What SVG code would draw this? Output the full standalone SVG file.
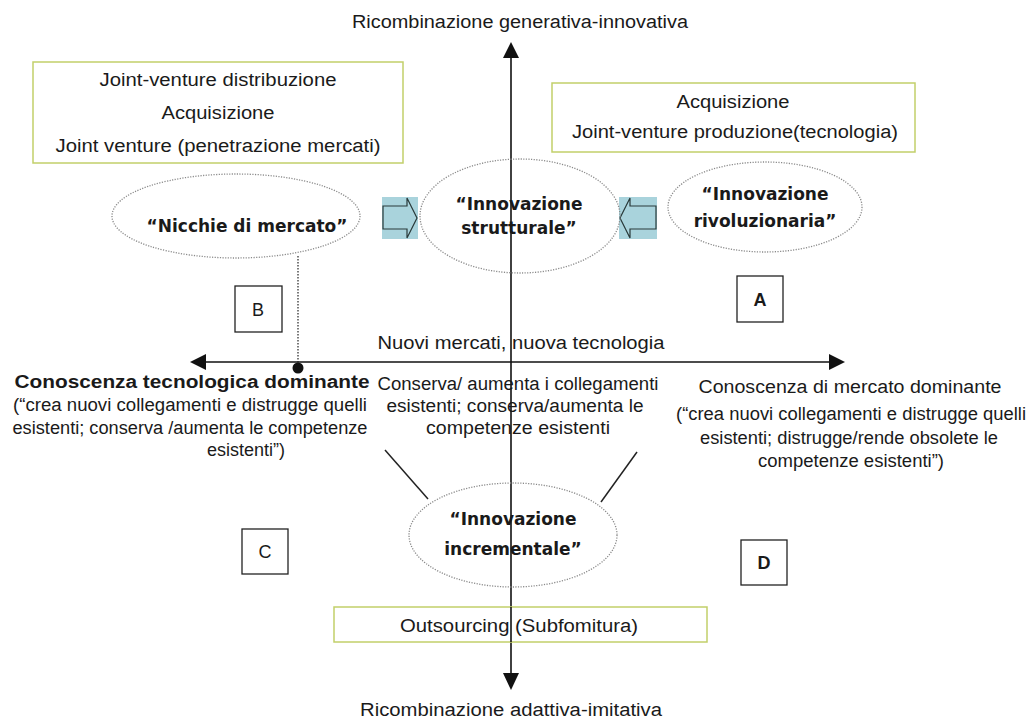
<svg xmlns="http://www.w3.org/2000/svg" width="1028" height="724" viewBox="0 0 1028 724">
<defs>
<style>
.t{font-family:"Liberation Sans",Arial,sans-serif;font-size:18px;fill:#1a1a1a;text-anchor:middle}
.tb{font-family:"Liberation Sans",Arial,sans-serif;font-size:18px;font-weight:bold;fill:#1a1a1a;text-anchor:middle}
.lbl{font-family:"DejaVu Sans",Verdana,sans-serif;font-size:17px;font-weight:bold;fill:#1a1a1a;text-anchor:middle}
.gbox{fill:#fff;stroke:#c2cf6a;stroke-width:1.5}
.ell{fill:none;stroke:#8a8a8a;stroke-width:1.3;stroke-dasharray:1.2 1.4}
.q{fill:#fff;stroke:#222;stroke-width:1.3}
.ax{stroke:#111;stroke-width:1.6;fill:none}
.head{fill:#111}
.blk{fill:#a9d3dc}
.barrow{fill:none;stroke:#2a3a3a;stroke-width:1.2}
.diag{stroke:#222;stroke-width:1.5}
</style>
</defs>
<rect width="1028" height="724" fill="#fff"/>

<g id="connectors">
  <line class="ax" x1="511" y1="56" x2="511" y2="675"/>
  <polygon class="head" points="511,42 503,58 519,58"/>
  <polygon class="head" points="511,690 503,673 519,673"/>
  <line class="ax" x1="203" y1="362" x2="830" y2="362"/>
  <polygon class="head" points="190,362 206,354 206,370"/>
  <polygon class="head" points="845,362 829,354 829,370"/>
  <line x1="298" y1="256" x2="298" y2="364" stroke="#222" stroke-width="1.2" stroke-dasharray="1.5 1.5"/>
  <circle cx="298" cy="368" r="5.5" fill="#111"/>
  <line class="diag" x1="385" y1="450" x2="428" y2="499"/>
  <line class="diag" x1="637" y1="452" x2="601" y2="502"/>
  <g id="arrow-left">
    <rect class="blk" x="382" y="197" width="36" height="42"/>
    <polygon class="barrow" points="383,206 407,206 407,198 417,218 407,238 407,229 383,229"/>
  </g>
  <g id="arrow-right">
    <rect class="blk" x="619" y="197" width="38" height="42"/>
    <polygon class="barrow" points="656,206 630,206 630,198 620,218 630,238 630,229 656,229"/>
  </g>
</g>

<g id="title-top"><text class="t" x="520" y="28" textLength="336" lengthAdjust="spacingAndGlyphs">Ricombinazione generativa-innovativa</text></g>

<g id="box-left">
  <rect class="gbox" x="33" y="62" width="370" height="101"/>
  <text class="t" x="218" y="86" textLength="237" lengthAdjust="spacingAndGlyphs">Joint-venture distribuzione</text>
  <text class="t" x="218" y="119" textLength="113" lengthAdjust="spacingAndGlyphs">Acquisizione</text>
  <text class="t" x="218" y="152" textLength="325" lengthAdjust="spacingAndGlyphs">Joint venture (penetrazione mercati)</text>
</g>

<g id="box-right">
  <rect class="gbox" x="552" y="83" width="363" height="69"/>
  <text class="t" x="733" y="108" textLength="113" lengthAdjust="spacingAndGlyphs">Acquisizione</text>
  <text class="t" x="735" y="138" textLength="326" lengthAdjust="spacingAndGlyphs">Joint-venture produzione(tecnologia)</text>
</g>

<g id="nicchie">
  <ellipse class="ell" cx="236" cy="216" rx="124" ry="42"/>
  <text class="lbl" x="247" y="232">“Nicchie di mercato”</text>
</g>

<g id="strutturale">
  <ellipse class="ell" cx="520" cy="216" rx="100" ry="57"/>
  <text class="lbl" x="519" y="210">“Innovazione</text>
  <text class="lbl" x="519" y="234">strutturale”</text>
</g>

<g id="rivoluzionaria">
  <ellipse class="ell" cx="765" cy="207" rx="97" ry="45"/>
  <text class="lbl" x="765" y="200">“Innovazione</text>
  <text class="lbl" x="765" y="227">rivoluzionaria”</text>
</g>

<g id="incrementale">
  <ellipse class="ell" cx="513" cy="535" rx="104" ry="52"/>
  <text class="lbl" x="513" y="525">“Innovazione</text>
  <text class="lbl" x="513" y="555">incrementale”</text>
</g>

<g id="quad-B"><rect class="q" x="235" y="286" width="47" height="46"/><text class="t" x="258" y="316">B</text></g>
<g id="quad-A"><rect class="q" x="737" y="276" width="46" height="46"/><text class="tb" x="760" y="306">A</text></g>
<g id="quad-C"><rect class="q" x="242" y="529" width="46" height="45"/><text class="t" x="265" y="558">C</text></g>
<g id="quad-D"><rect class="q" x="741" y="540" width="46" height="45"/><text class="tb" x="764" y="569">D</text></g>

<g id="label-nuovi"><text class="t" x="521" y="349" textLength="287" lengthAdjust="spacingAndGlyphs">Nuovi mercati, nuova tecnologia</text></g>

<g id="label-tecnologica">
  <text class="tb" x="192" y="388" textLength="355" lengthAdjust="spacingAndGlyphs">Conoscenza tecnologica dominante</text>
  <text class="t" x="190" y="411" textLength="354" lengthAdjust="spacingAndGlyphs">(“crea nuovi collegamenti e distrugge quelli</text>
  <text class="t" x="190" y="434" textLength="355" lengthAdjust="spacingAndGlyphs">esistenti; conserva /aumenta le competenze</text>
  <text class="t" x="246" y="456">esistenti”)</text>
</g>

<g id="label-centro">
  <text class="t" x="518" y="390" textLength="281" lengthAdjust="spacingAndGlyphs">Conserva/ aumenta i collegamenti</text>
  <text class="t" x="515" y="412" textLength="257" lengthAdjust="spacingAndGlyphs">esistenti; conserva/aumenta le</text>
  <text class="t" x="518" y="434" textLength="184" lengthAdjust="spacingAndGlyphs">competenze esistenti</text>
</g>

<g id="label-mercato">
  <text class="t" x="850" y="393" textLength="303" lengthAdjust="spacingAndGlyphs">Conoscenza di mercato dominante</text>
  <text class="t" x="851" y="420" textLength="350" lengthAdjust="spacingAndGlyphs">(“crea nuovi collegamenti e distrugge quelli</text>
  <text class="t" x="849" y="444" textLength="298" lengthAdjust="spacingAndGlyphs">esistenti; distrugge/rende obsolete le</text>
  <text class="t" x="851" y="467" textLength="186" lengthAdjust="spacingAndGlyphs">competenze esistenti”)</text>
</g>

<g id="box-outsourcing">
  <rect class="gbox" x="334" y="607" width="373" height="35"/>
  <line class="ax" x1="511" y1="607" x2="511" y2="642"/>
  <text class="t" x="519" y="632" textLength="238" lengthAdjust="spacingAndGlyphs">Outsourcing (Subfomitura)</text>
</g>

<g id="title-bottom"><text class="t" x="511" y="716" textLength="302" lengthAdjust="spacingAndGlyphs">Ricombinazione adattiva-imitativa</text></g>
</svg>
